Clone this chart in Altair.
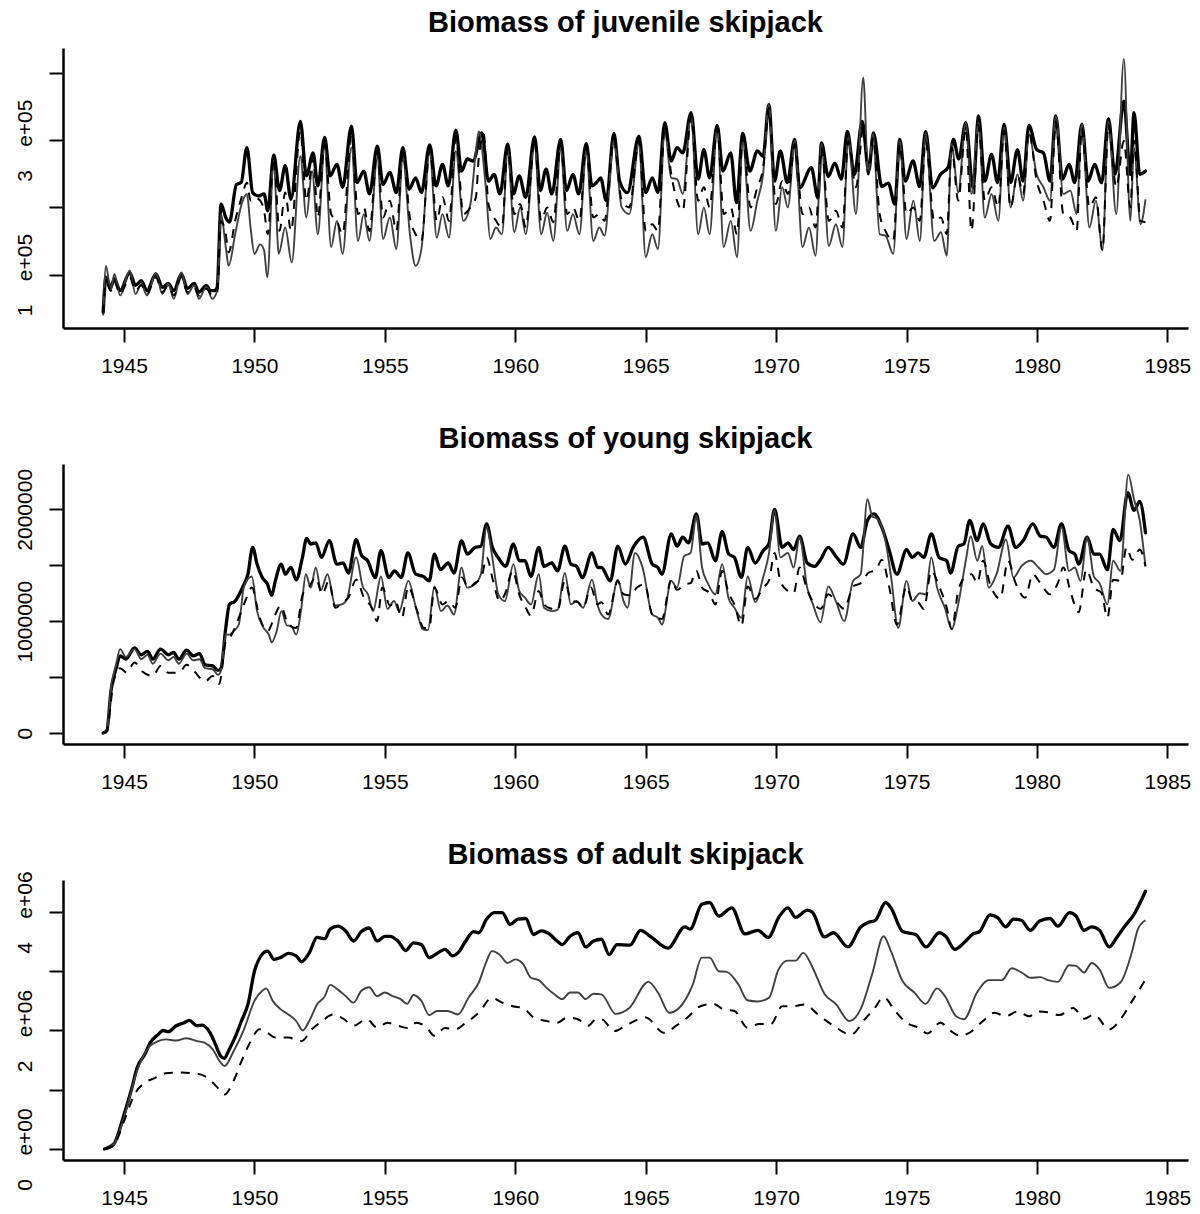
import altair as alt
import pandas as pd

# ---------------- data ----------------
YEAR_TICKS = [1945, 1950, 1955, 1960, 1965, 1970, 1975, 1980, 1985]
X_DOMAIN = [1942.66, 1985.79]

TITLES = ["Biomass of juvenile skipjack", "Biomass of young skipjack", "Biomass of adult skipjack"]

# Panel 1: juvenile biomass, values in units of 1e5
JUV_UNIT = 1e5
JUV_THICK = [(1944.20, 0.44), (1944.31, 0.96), (1944.49, 0.81), (1944.63, 0.94), (1944.85, 0.76), (1945.22, 1.03), (1945.44, 0.84), (1945.66, 0.91), (1945.88, 0.76), (1946.22, 1.01), (1946.47, 0.81), (1946.69, 0.87), (1946.91, 0.76), (1947.20, 1.01), (1947.43, 0.79), (1947.69, 0.87), (1947.87, 0.74), (1948.16, 0.84), (1948.31, 0.76), (1948.46, 0.76), (1948.57, 0.81), (1948.72, 2.05), (1948.90, 1.85), (1949.04, 1.78), (1949.31, 2.34), (1949.49, 2.37), (1949.71, 2.89), (1949.93, 2.22), (1950.15, 2.17), (1950.37, 2.20), (1950.51, 1.95), (1950.74, 2.78), (1950.96, 2.25), (1951.18, 2.62), (1951.40, 2.12), (1951.76, 3.28), (1951.99, 2.47), (1952.25, 2.81), (1952.43, 2.32), (1952.69, 3.04), (1952.90, 2.47), (1953.16, 2.64), (1953.38, 2.30), (1953.72, 3.21), (1953.93, 2.37), (1954.19, 2.54), (1954.41, 2.20), (1954.71, 2.91), (1954.93, 2.34), (1955.19, 2.52), (1955.44, 2.22), (1955.69, 2.89), (1955.93, 2.27), (1956.18, 2.44), (1956.40, 2.22), (1956.72, 2.93), (1956.96, 2.32), (1957.21, 2.64), (1957.43, 2.32), (1957.72, 3.15), (1957.94, 2.54), (1958.16, 2.72), (1958.38, 2.69), (1958.72, 3.11), (1958.97, 2.39), (1959.19, 2.49), (1959.41, 2.20), (1959.71, 2.94), (1959.93, 2.20), (1960.15, 2.47), (1960.40, 2.15), (1960.74, 3.05), (1960.96, 2.25), (1961.18, 2.57), (1961.40, 2.20), (1961.74, 3.01), (1961.96, 2.25), (1962.21, 2.49), (1962.43, 2.20), (1962.72, 2.95), (1962.94, 2.32), (1963.16, 2.39), (1963.27, 2.44), (1963.49, 2.10), (1963.78, 3.10), (1964.00, 2.39), (1964.30, 2.22), (1964.74, 3.06), (1965.00, 2.22), (1965.25, 2.44), (1965.47, 2.22), (1965.73, 3.26), (1965.98, 2.69), (1966.20, 2.89), (1966.42, 2.81), (1966.74, 3.41), (1967.01, 2.42), (1967.23, 2.86), (1967.45, 2.44), (1967.74, 3.22), (1967.96, 2.54), (1968.26, 2.81), (1968.48, 2.07), (1968.72, 3.10), (1968.99, 2.54), (1969.28, 2.84), (1969.50, 2.76), (1969.72, 3.53), (1969.94, 2.39), (1970.16, 2.84), (1970.43, 2.37), (1970.71, 3.01), (1970.90, 2.29), (1971.35, 2.59), (1971.60, 2.14), (1971.74, 2.96), (1972.00, 2.46), (1972.25, 2.66), (1972.50, 2.42), (1972.73, 3.13), (1973.00, 2.49), (1973.30, 3.28), (1973.55, 2.54), (1973.73, 3.11), (1974.05, 2.31), (1974.30, 2.36), (1974.55, 2.05), (1974.74, 3.01), (1974.95, 2.39), (1975.25, 2.69), (1975.50, 2.31), (1975.73, 3.13), (1976.00, 2.29), (1976.30, 2.49), (1976.60, 2.60), (1976.80, 3.01), (1977.00, 2.72), (1977.27, 3.26), (1977.55, 2.29), (1977.76, 3.36), (1978.00, 2.39), (1978.26, 2.79), (1978.49, 2.37), (1978.74, 3.24), (1978.99, 2.37), (1979.25, 2.86), (1979.47, 2.39), (1979.69, 3.22), (1979.99, 2.86), (1980.25, 2.81), (1980.50, 2.39), (1980.72, 3.36), (1980.98, 2.42), (1981.23, 2.64), (1981.45, 2.37), (1981.72, 3.24), (1981.96, 2.39), (1982.21, 2.64), (1982.48, 2.37), (1982.74, 3.32), (1982.99, 2.49), (1983.33, 3.58), (1983.58, 2.49), (1983.72, 3.41), (1983.94, 2.49), (1984.16, 2.54)]
JUV_GRAY = [(1944.20, 0.39), (1944.31, 1.13), (1944.49, 0.76), (1944.63, 1.01), (1944.85, 0.69), (1945.22, 1.06), (1945.44, 0.71), (1945.66, 0.86), (1945.88, 0.69), (1946.22, 1.02), (1946.47, 0.71), (1946.69, 0.86), (1946.91, 0.64), (1947.20, 1.03), (1947.43, 0.71), (1947.69, 0.84), (1947.87, 0.64), (1948.16, 0.82), (1948.38, 0.64), (1948.57, 0.76), (1948.72, 1.90), (1948.90, 1.41), (1949.01, 1.13), (1949.26, 1.60), (1949.51, 2.05), (1949.71, 2.20), (1949.85, 1.70), (1950.00, 1.31), (1950.22, 1.45), (1950.37, 1.36), (1950.49, 0.96), (1950.74, 2.69), (1950.93, 1.31), (1951.18, 1.70), (1951.43, 1.18), (1951.76, 2.76), (1951.99, 1.85), (1952.21, 2.54), (1952.43, 1.60), (1952.69, 2.89), (1952.94, 1.41), (1953.16, 1.80), (1953.38, 1.31), (1953.72, 2.89), (1953.97, 1.50), (1954.19, 1.90), (1954.41, 1.50), (1954.71, 2.74), (1954.93, 1.53), (1955.19, 1.85), (1955.44, 1.38), (1955.69, 2.74), (1955.96, 1.60), (1956.18, 1.13), (1956.40, 1.38), (1956.72, 2.81), (1956.99, 1.55), (1957.21, 1.90), (1957.46, 1.55), (1957.72, 2.84), (1958.01, 1.80), (1958.28, 2.05), (1958.49, 2.84), (1958.60, 3.13), (1958.87, 2.30), (1959.04, 1.53), (1959.26, 1.70), (1959.49, 1.60), (1959.71, 2.84), (1959.96, 1.63), (1960.19, 2.00), (1960.40, 1.60), (1960.74, 2.94), (1960.99, 1.60), (1961.22, 1.92), (1961.46, 1.50), (1961.74, 2.86), (1961.99, 1.65), (1962.21, 1.90), (1962.46, 1.60), (1962.72, 2.84), (1962.99, 1.50), (1963.22, 1.70), (1963.42, 1.58), (1963.78, 2.99), (1964.08, 2.00), (1964.37, 1.90), (1964.74, 2.94), (1965.00, 1.26), (1965.25, 1.60), (1965.47, 1.38), (1965.73, 3.14), (1965.98, 2.44), (1966.20, 2.42), (1966.42, 2.20), (1966.74, 3.36), (1967.01, 1.60), (1967.23, 2.00), (1967.45, 1.60), (1967.74, 3.18), (1967.99, 1.41), (1968.26, 1.80), (1968.50, 1.26), (1968.72, 2.99), (1969.02, 1.65), (1969.28, 2.10), (1969.50, 2.49), (1969.72, 3.53), (1969.99, 1.65), (1970.23, 2.30), (1970.45, 2.00), (1970.72, 2.99), (1971.01, 1.41), (1971.26, 1.70), (1971.51, 1.28), (1971.74, 2.94), (1972.02, 1.43), (1972.29, 1.75), (1972.54, 1.41), (1972.77, 3.04), (1973.06, 1.90), (1973.34, 3.93), (1973.53, 2.49), (1973.71, 3.09), (1973.97, 1.60), (1974.19, 1.58), (1974.49, 1.31), (1974.74, 2.99), (1975.00, 1.53), (1975.26, 2.10), (1975.51, 1.50), (1975.73, 3.09), (1976.06, 1.50), (1976.32, 1.63), (1976.54, 1.28), (1976.73, 2.94), (1976.98, 2.22), (1977.27, 3.26), (1977.49, 2.20), (1977.76, 3.26), (1978.00, 1.85), (1978.26, 2.20), (1978.52, 1.80), (1978.74, 3.19), (1978.99, 2.00), (1979.25, 2.49), (1979.47, 2.10), (1979.69, 3.09), (1979.99, 2.49), (1980.25, 2.30), (1980.50, 2.10), (1980.72, 3.36), (1981.01, 2.20), (1981.28, 2.25), (1981.52, 1.90), (1981.72, 3.24), (1982.01, 1.70), (1982.26, 2.10), (1982.51, 1.36), (1982.74, 3.28), (1983.04, 1.90), (1983.33, 4.21), (1983.58, 1.80), (1983.72, 2.89), (1983.97, 1.75), (1984.16, 2.12)]
JUV_DASH = [(1944.20, 0.42), (1944.31, 0.89), (1944.49, 0.76), (1944.63, 0.89), (1944.85, 0.71), (1945.22, 0.96), (1945.44, 0.76), (1945.66, 0.84), (1945.88, 0.71), (1946.22, 0.96), (1946.47, 0.74), (1946.69, 0.84), (1946.91, 0.69), (1947.20, 0.96), (1947.43, 0.74), (1947.69, 0.81), (1947.87, 0.69), (1948.16, 0.79), (1948.38, 0.69), (1948.57, 0.74), (1948.72, 1.80), (1948.90, 1.60), (1949.01, 1.33), (1949.26, 1.80), (1949.51, 2.15), (1949.71, 2.37), (1949.85, 2.10), (1950.00, 2.15), (1950.22, 2.10), (1950.37, 1.95), (1950.51, 1.60), (1950.74, 2.74), (1950.96, 1.65), (1951.18, 2.22), (1951.40, 1.65), (1951.76, 3.14), (1951.99, 2.10), (1952.25, 2.74), (1952.43, 1.85), (1952.69, 2.94), (1952.94, 1.90), (1953.16, 1.80), (1953.38, 1.60), (1953.72, 3.09), (1953.97, 1.90), (1954.19, 2.00), (1954.41, 1.65), (1954.71, 2.84), (1954.93, 1.85), (1955.19, 2.10), (1955.44, 1.65), (1955.69, 2.81), (1955.96, 1.85), (1956.18, 1.60), (1956.40, 1.50), (1956.72, 2.86), (1956.99, 1.80), (1957.21, 2.15), (1957.46, 1.80), (1957.72, 3.04), (1958.01, 1.90), (1958.28, 2.00), (1958.49, 2.15), (1958.60, 2.74), (1958.79, 3.09), (1958.97, 2.05), (1959.26, 1.80), (1959.49, 1.70), (1959.71, 2.89), (1959.96, 1.90), (1960.19, 2.05), (1960.40, 1.70), (1960.74, 3.01), (1960.99, 1.80), (1961.22, 2.00), (1961.46, 1.78), (1961.74, 2.96), (1961.99, 1.90), (1962.21, 2.00), (1962.46, 1.80), (1962.72, 2.89), (1962.99, 1.85), (1963.22, 1.90), (1963.42, 1.80), (1963.78, 3.01), (1964.08, 2.10), (1964.37, 2.00), (1964.74, 2.99), (1965.00, 1.65), (1965.25, 1.75), (1965.47, 1.65), (1965.73, 3.19), (1965.98, 2.49), (1966.20, 2.10), (1966.42, 1.95), (1966.74, 3.36), (1967.01, 2.10), (1967.23, 2.30), (1967.45, 2.00), (1967.74, 3.18), (1967.99, 1.90), (1968.26, 2.00), (1968.50, 1.60), (1968.72, 3.04), (1969.02, 2.00), (1969.28, 2.30), (1969.50, 2.59), (1969.72, 3.48), (1969.99, 2.05), (1970.23, 2.39), (1970.45, 2.20), (1970.72, 2.94), (1971.01, 1.90), (1971.26, 2.00), (1971.51, 1.70), (1971.74, 2.89), (1972.02, 1.80), (1972.29, 1.95), (1972.54, 1.70), (1972.77, 2.99), (1973.06, 2.30), (1973.34, 3.18), (1973.53, 2.49), (1973.71, 3.04), (1973.97, 1.90), (1974.19, 1.65), (1974.49, 1.50), (1974.74, 2.94), (1975.00, 1.90), (1975.26, 2.00), (1975.51, 1.80), (1975.73, 2.99), (1976.06, 1.80), (1976.32, 1.85), (1976.54, 1.60), (1976.73, 2.89), (1976.98, 2.10), (1977.27, 3.18), (1977.49, 1.65), (1977.76, 3.23), (1978.00, 2.10), (1978.26, 2.30), (1978.52, 2.00), (1978.74, 3.14), (1978.99, 2.00), (1979.25, 2.49), (1979.47, 2.20), (1979.69, 3.14), (1979.99, 2.39), (1980.25, 2.10), (1980.50, 1.80), (1980.72, 3.28), (1981.01, 1.90), (1981.28, 1.85), (1981.52, 1.65), (1981.72, 3.18), (1982.01, 2.00), (1982.26, 2.15), (1982.51, 1.36), (1982.74, 3.23), (1983.04, 2.30), (1983.33, 2.99), (1983.58, 2.00), (1983.72, 2.99), (1983.97, 1.80), (1984.16, 1.78)]

# Panel 2: young biomass, values in units of 1e6
YOUNG_UNIT = 1e6
YOUNG_THICK = [(1944.20, 0.00), (1944.34, 0.02), (1944.50, 0.38), (1944.70, 0.58), (1944.85, 0.69), (1945.07, 0.66), (1945.40, 0.76), (1945.66, 0.70), (1945.90, 0.73), (1946.10, 0.66), (1946.40, 0.75), (1946.70, 0.70), (1946.90, 0.72), (1947.10, 0.66), (1947.40, 0.74), (1947.65, 0.69), (1947.90, 0.71), (1948.10, 0.61), (1948.40, 0.60), (1948.60, 0.56), (1948.72, 0.58), (1948.90, 0.94), (1949.04, 1.15), (1949.26, 1.18), (1949.56, 1.31), (1949.75, 1.42), (1949.93, 1.66), (1950.10, 1.51), (1950.30, 1.39), (1950.50, 1.33), (1950.66, 1.23), (1950.80, 1.36), (1951.03, 1.51), (1951.18, 1.42), (1951.40, 1.48), (1951.60, 1.37), (1951.84, 1.57), (1952.00, 1.74), (1952.16, 1.69), (1952.35, 1.70), (1952.57, 1.57), (1952.87, 1.72), (1953.16, 1.51), (1953.40, 1.52), (1953.60, 1.43), (1953.90, 1.73), (1954.10, 1.59), (1954.34, 1.54), (1954.63, 1.39), (1954.85, 1.63), (1955.15, 1.39), (1955.37, 1.45), (1955.63, 1.39), (1955.88, 1.61), (1956.18, 1.42), (1956.47, 1.40), (1956.70, 1.36), (1956.90, 1.60), (1957.13, 1.46), (1957.43, 1.52), (1957.65, 1.43), (1957.94, 1.72), (1958.16, 1.60), (1958.46, 1.66), (1958.68, 1.67), (1958.90, 1.87), (1959.12, 1.66), (1959.34, 1.57), (1959.63, 1.49), (1959.93, 1.69), (1960.15, 1.54), (1960.37, 1.54), (1960.60, 1.40), (1960.90, 1.66), (1961.10, 1.49), (1961.40, 1.52), (1961.62, 1.45), (1961.90, 1.67), (1962.13, 1.51), (1962.35, 1.49), (1962.57, 1.39), (1962.94, 1.61), (1963.16, 1.48), (1963.30, 1.48), (1963.64, 1.36), (1963.93, 1.67), (1964.22, 1.51), (1964.52, 1.66), (1964.90, 1.75), (1965.25, 1.51), (1965.47, 1.48), (1965.62, 1.42), (1965.98, 1.78), (1966.20, 1.67), (1966.42, 1.75), (1966.64, 1.70), (1966.94, 1.96), (1967.16, 1.69), (1967.38, 1.70), (1967.67, 1.54), (1967.93, 1.80), (1968.18, 1.60), (1968.40, 1.57), (1968.67, 1.39), (1968.91, 1.66), (1969.20, 1.52), (1969.50, 1.63), (1969.72, 1.69), (1969.94, 2.00), (1970.23, 1.66), (1970.45, 1.70), (1970.67, 1.64), (1970.90, 1.76), (1971.19, 1.52), (1971.48, 1.49), (1971.70, 1.55), (1972.00, 1.66), (1972.29, 1.58), (1972.58, 1.51), (1972.95, 1.78), (1973.24, 1.66), (1973.50, 1.90), (1973.75, 1.96), (1974.05, 1.84), (1974.34, 1.63), (1974.63, 1.42), (1975.00, 1.64), (1975.22, 1.57), (1975.44, 1.61), (1975.66, 1.57), (1975.95, 1.78), (1976.25, 1.57), (1976.54, 1.54), (1976.69, 1.43), (1976.98, 1.67), (1977.20, 1.69), (1977.42, 1.90), (1977.71, 1.72), (1977.93, 1.87), (1978.23, 1.69), (1978.52, 1.66), (1978.89, 1.85), (1979.18, 1.66), (1979.47, 1.72), (1979.84, 1.87), (1980.13, 1.76), (1980.35, 1.75), (1980.65, 1.66), (1980.94, 1.87), (1981.23, 1.63), (1981.45, 1.60), (1981.60, 1.51), (1981.92, 1.75), (1982.18, 1.60), (1982.40, 1.60), (1982.70, 1.46), (1982.92, 1.82), (1983.18, 1.72), (1983.48, 2.15), (1983.72, 1.99), (1983.94, 2.07), (1984.16, 1.79)]
YOUNG_GRAY = [(1944.20, 0.00), (1944.34, 0.02), (1944.50, 0.40), (1944.70, 0.62), (1944.85, 0.75), (1945.07, 0.68), (1945.40, 0.75), (1945.66, 0.66), (1945.90, 0.70), (1946.10, 0.62), (1946.40, 0.71), (1946.70, 0.65), (1946.90, 0.68), (1947.10, 0.62), (1947.40, 0.71), (1947.65, 0.65), (1947.90, 0.66), (1948.10, 0.58), (1948.40, 0.57), (1948.60, 0.52), (1948.72, 0.56), (1948.90, 0.88), (1949.04, 0.88), (1949.20, 0.91), (1949.40, 0.97), (1949.60, 1.31), (1949.90, 1.40), (1950.10, 1.09), (1950.35, 0.94), (1950.55, 0.88), (1950.66, 0.81), (1950.85, 0.91), (1951.03, 1.09), (1951.25, 0.96), (1951.40, 0.96), (1951.60, 0.88), (1951.80, 1.12), (1951.97, 1.42), (1952.16, 1.30), (1952.35, 1.48), (1952.55, 1.28), (1952.80, 1.42), (1953.10, 1.14), (1953.35, 1.15), (1953.55, 1.20), (1953.90, 1.57), (1954.15, 1.31), (1954.35, 1.24), (1954.55, 1.09), (1954.85, 1.40), (1955.10, 1.11), (1955.35, 1.18), (1955.55, 1.09), (1955.90, 1.36), (1956.20, 1.11), (1956.45, 0.93), (1956.65, 0.92), (1956.90, 1.31), (1957.15, 1.09), (1957.40, 1.14), (1957.65, 1.06), (1957.94, 1.48), (1958.15, 1.30), (1958.45, 1.33), (1958.68, 1.42), (1958.90, 1.85), (1959.10, 1.60), (1959.35, 1.24), (1959.60, 1.18), (1959.93, 1.51), (1960.15, 1.27), (1960.37, 1.21), (1960.60, 1.15), (1960.90, 1.42), (1961.10, 1.12), (1961.40, 1.09), (1961.62, 1.10), (1961.90, 1.43), (1962.13, 1.15), (1962.35, 1.18), (1962.60, 1.12), (1962.94, 1.37), (1963.16, 1.14), (1963.30, 1.06), (1963.56, 1.02), (1963.93, 1.37), (1964.15, 1.18), (1964.30, 1.12), (1964.59, 1.61), (1964.88, 1.48), (1965.25, 1.06), (1965.47, 1.03), (1965.62, 0.97), (1965.98, 1.36), (1966.20, 1.30), (1966.47, 1.58), (1966.72, 1.61), (1966.94, 1.94), (1967.16, 1.48), (1967.38, 1.34), (1967.67, 1.24), (1967.93, 1.51), (1968.18, 1.20), (1968.40, 1.12), (1968.67, 1.03), (1968.91, 1.40), (1969.20, 1.17), (1969.50, 1.39), (1969.72, 1.60), (1969.94, 1.99), (1970.16, 1.57), (1970.45, 1.61), (1970.67, 1.48), (1970.90, 1.75), (1971.19, 1.30), (1971.41, 1.15), (1971.70, 0.99), (1972.00, 1.31), (1972.29, 1.18), (1972.61, 1.00), (1972.95, 1.36), (1973.24, 1.42), (1973.50, 2.09), (1973.68, 1.94), (1973.90, 1.91), (1974.19, 1.72), (1974.41, 1.39), (1974.68, 0.94), (1975.00, 1.36), (1975.22, 1.18), (1975.51, 1.25), (1975.73, 1.24), (1975.95, 1.57), (1976.17, 1.30), (1976.47, 1.12), (1976.73, 0.93), (1976.98, 1.15), (1977.27, 1.54), (1977.46, 1.76), (1977.71, 1.54), (1977.90, 1.67), (1978.15, 1.30), (1978.45, 1.42), (1978.81, 1.73), (1979.10, 1.39), (1979.40, 1.49), (1979.77, 1.54), (1980.06, 1.48), (1980.35, 1.42), (1980.65, 1.46), (1980.94, 1.84), (1981.23, 1.45), (1981.45, 1.48), (1981.67, 1.36), (1981.92, 1.75), (1982.18, 1.40), (1982.40, 1.34), (1982.70, 1.15), (1982.92, 1.54), (1983.20, 1.45), (1983.50, 2.31), (1983.72, 2.09), (1983.94, 1.90), (1984.16, 1.49)]
YOUNG_DASH = [(1944.20, 0.00), (1944.34, 0.02), (1944.60, 0.46), (1944.85, 0.58), (1945.10, 0.54), (1945.40, 0.63), (1945.70, 0.55), (1946.10, 0.51), (1946.40, 0.60), (1946.70, 0.54), (1947.10, 0.54), (1947.40, 0.61), (1947.70, 0.55), (1948.10, 0.46), (1948.40, 0.51), (1948.65, 0.44), (1948.90, 0.82), (1949.10, 0.87), (1949.40, 1.03), (1949.70, 1.21), (1949.90, 1.30), (1950.20, 1.03), (1950.50, 0.91), (1950.80, 1.06), (1951.00, 1.14), (1951.30, 0.97), (1951.60, 0.94), (1951.85, 1.24), (1952.10, 1.31), (1952.35, 1.39), (1952.60, 1.24), (1952.85, 1.36), (1953.10, 1.12), (1953.40, 1.17), (1953.60, 1.21), (1953.90, 1.37), (1954.20, 1.21), (1954.50, 1.12), (1954.70, 1.00), (1954.90, 1.30), (1955.20, 1.14), (1955.40, 1.18), (1955.65, 1.03), (1955.90, 1.31), (1956.20, 1.12), (1956.50, 0.94), (1956.70, 0.94), (1956.90, 1.30), (1957.20, 1.15), (1957.45, 1.18), (1957.70, 1.12), (1957.95, 1.39), (1958.20, 1.30), (1958.45, 1.34), (1958.70, 1.39), (1958.90, 1.57), (1959.15, 1.36), (1959.40, 1.18), (1959.60, 1.24), (1959.90, 1.45), (1960.15, 1.24), (1960.40, 1.12), (1960.60, 1.05), (1960.90, 1.27), (1961.10, 1.15), (1961.40, 1.11), (1961.62, 1.10), (1961.90, 1.36), (1962.15, 1.18), (1962.40, 1.17), (1962.60, 1.12), (1962.90, 1.30), (1963.15, 1.15), (1963.30, 1.17), (1963.56, 1.06), (1963.93, 1.36), (1964.15, 1.24), (1964.44, 1.23), (1964.66, 1.30), (1964.96, 1.33), (1965.25, 1.06), (1965.62, 1.02), (1965.98, 1.37), (1966.20, 1.28), (1966.50, 1.33), (1966.72, 1.34), (1966.94, 1.45), (1967.16, 1.30), (1967.45, 1.25), (1967.67, 1.15), (1967.93, 1.45), (1968.18, 1.25), (1968.40, 1.15), (1968.67, 0.96), (1968.91, 1.31), (1969.20, 1.20), (1969.50, 1.30), (1969.72, 1.36), (1969.94, 1.61), (1970.16, 1.36), (1970.45, 1.27), (1970.67, 1.25), (1970.90, 1.48), (1971.19, 1.28), (1971.48, 1.15), (1971.70, 1.11), (1972.00, 1.24), (1972.29, 1.18), (1972.61, 1.11), (1972.95, 1.31), (1973.24, 1.34), (1973.53, 1.43), (1973.83, 1.46), (1974.05, 1.55), (1974.34, 1.30), (1974.63, 0.97), (1975.00, 1.31), (1975.22, 1.18), (1975.44, 1.17), (1975.66, 1.11), (1975.95, 1.45), (1976.25, 1.31), (1976.54, 1.12), (1976.73, 0.93), (1976.98, 1.27), (1977.27, 1.40), (1977.49, 1.42), (1977.71, 1.34), (1977.93, 1.54), (1978.23, 1.31), (1978.59, 1.20), (1978.89, 1.54), (1979.18, 1.34), (1979.55, 1.21), (1979.84, 1.42), (1980.13, 1.34), (1980.50, 1.24), (1980.80, 1.34), (1981.01, 1.48), (1981.30, 1.25), (1981.60, 1.08), (1981.89, 1.46), (1982.18, 1.30), (1982.48, 1.25), (1982.70, 1.03), (1982.92, 1.37), (1983.20, 1.36), (1983.43, 1.66), (1983.65, 1.55), (1983.94, 1.64), (1984.16, 1.49)]

# Panel 3: adult biomass, values in units of 1e6
ADULT_UNIT = 1e6
ADULT_THICK = [(1944.25, 0.00), (1944.60, 0.08), (1945.00, 0.58), (1945.30, 1.03), (1945.50, 1.37), (1945.80, 1.60), (1946.00, 1.79), (1946.30, 1.93), (1946.50, 2.00), (1946.70, 1.98), (1947.00, 2.08), (1947.30, 2.13), (1947.50, 2.17), (1947.80, 2.08), (1948.00, 2.09), (1948.30, 1.96), (1948.50, 1.77), (1948.70, 1.57), (1948.85, 1.53), (1949.00, 1.65), (1949.30, 1.93), (1949.50, 2.16), (1949.75, 2.44), (1950.00, 3.00), (1950.25, 3.26), (1950.50, 3.34), (1950.75, 3.20), (1951.00, 3.23), (1951.30, 3.30), (1951.60, 3.26), (1951.80, 3.16), (1952.10, 3.31), (1952.40, 3.57), (1952.70, 3.55), (1952.90, 3.71), (1953.20, 3.76), (1953.50, 3.68), (1953.80, 3.51), (1954.10, 3.67), (1954.40, 3.73), (1954.70, 3.51), (1955.00, 3.59), (1955.20, 3.59), (1955.50, 3.51), (1955.80, 3.35), (1956.10, 3.48), (1956.40, 3.45), (1956.70, 3.23), (1957.00, 3.30), (1957.30, 3.37), (1957.60, 3.26), (1957.80, 3.31), (1958.10, 3.51), (1958.40, 3.67), (1958.60, 3.65), (1958.90, 3.88), (1959.20, 3.99), (1959.50, 3.99), (1959.80, 3.79), (1960.10, 3.88), (1960.40, 3.89), (1960.70, 3.62), (1961.00, 3.68), (1961.30, 3.63), (1961.60, 3.51), (1961.80, 3.45), (1962.10, 3.59), (1962.40, 3.65), (1962.70, 3.41), (1963.00, 3.51), (1963.30, 3.54), (1963.60, 3.28), (1963.90, 3.45), (1964.40, 3.44), (1964.80, 3.69), (1965.20, 3.58), (1965.85, 3.39), (1966.50, 3.75), (1966.70, 3.71), (1967.15, 4.13), (1967.45, 4.16), (1967.80, 3.93), (1968.30, 4.07), (1968.80, 3.63), (1969.30, 3.69), (1969.70, 3.57), (1970.10, 3.91), (1970.45, 4.07), (1970.75, 3.91), (1971.20, 4.03), (1971.40, 3.99), (1971.85, 3.58), (1972.20, 3.65), (1972.75, 3.41), (1973.25, 3.75), (1973.50, 3.82), (1973.80, 3.86), (1974.20, 4.16), (1974.40, 4.07), (1974.85, 3.67), (1975.35, 3.62), (1975.75, 3.41), (1976.25, 3.65), (1976.50, 3.59), (1976.85, 3.37), (1977.20, 3.48), (1977.55, 3.63), (1977.80, 3.67), (1978.20, 3.95), (1978.50, 3.90), (1978.80, 3.75), (1979.10, 3.88), (1979.40, 3.86), (1979.75, 3.69), (1980.10, 3.85), (1980.50, 3.89), (1980.80, 3.76), (1981.25, 3.99), (1981.50, 3.93), (1981.80, 3.69), (1982.10, 3.75), (1982.40, 3.69), (1982.77, 3.41), (1983.06, 3.57), (1983.35, 3.75), (1983.72, 3.96), (1984.16, 4.35)]
ADULT_GRAY = [(1944.25, 0.00), (1944.60, 0.08), (1945.00, 0.53), (1945.50, 1.32), (1946.00, 1.74), (1946.30, 1.82), (1946.60, 1.85), (1947.00, 1.83), (1947.40, 1.87), (1947.80, 1.82), (1948.10, 1.79), (1948.40, 1.68), (1948.70, 1.46), (1948.85, 1.40), (1949.20, 1.65), (1949.60, 2.02), (1950.00, 2.50), (1950.30, 2.67), (1950.45, 2.71), (1950.70, 2.50), (1951.00, 2.36), (1951.30, 2.27), (1951.60, 2.16), (1951.85, 2.00), (1952.10, 2.16), (1952.40, 2.44), (1952.70, 2.58), (1952.90, 2.77), (1953.20, 2.69), (1953.50, 2.58), (1953.80, 2.47), (1954.10, 2.67), (1954.40, 2.73), (1954.70, 2.58), (1955.00, 2.64), (1955.30, 2.58), (1955.60, 2.53), (1955.85, 2.45), (1956.10, 2.60), (1956.40, 2.50), (1956.70, 2.26), (1957.00, 2.33), (1957.40, 2.33), (1957.80, 2.27), (1958.20, 2.55), (1958.60, 2.81), (1958.90, 3.17), (1959.10, 3.34), (1959.40, 3.28), (1959.70, 3.14), (1960.00, 3.20), (1960.30, 3.12), (1960.60, 2.89), (1960.90, 2.85), (1961.20, 2.72), (1961.50, 2.61), (1961.80, 2.53), (1962.10, 2.64), (1962.40, 2.64), (1962.70, 2.53), (1963.00, 2.62), (1963.30, 2.61), (1963.85, 2.28), (1964.37, 2.38), (1965.10, 2.82), (1965.47, 2.64), (1965.90, 2.30), (1966.28, 2.38), (1966.80, 2.77), (1967.15, 3.23), (1967.45, 3.23), (1967.80, 3.00), (1968.10, 2.99), (1968.55, 2.78), (1968.90, 2.51), (1969.28, 2.49), (1969.72, 2.55), (1970.09, 3.03), (1970.45, 3.18), (1970.75, 3.18), (1971.04, 3.31), (1971.40, 3.06), (1971.85, 2.62), (1972.30, 2.44), (1972.80, 2.16), (1973.24, 2.36), (1973.68, 2.95), (1974.12, 3.59), (1974.40, 3.34), (1974.85, 2.83), (1975.30, 2.64), (1975.73, 2.45), (1976.17, 2.71), (1976.47, 2.58), (1976.90, 2.24), (1977.20, 2.19), (1977.70, 2.64), (1978.15, 2.85), (1978.66, 2.85), (1979.03, 3.05), (1979.40, 2.98), (1979.76, 2.89), (1980.13, 2.90), (1980.42, 2.85), (1980.80, 2.82), (1981.23, 3.10), (1981.50, 3.09), (1981.80, 2.98), (1982.10, 3.14), (1982.40, 3.03), (1982.77, 2.72), (1983.20, 2.81), (1983.65, 3.34), (1983.87, 3.71), (1984.16, 3.86)]
ADULT_DASH = [(1944.25, 0.00), (1944.60, 0.06), (1945.00, 0.47), (1945.40, 0.92), (1945.80, 1.12), (1946.20, 1.20), (1946.60, 1.28), (1947.20, 1.29), (1947.80, 1.27), (1948.20, 1.20), (1948.60, 1.03), (1948.85, 0.92), (1949.20, 1.15), (1949.50, 1.48), (1949.80, 1.77), (1950.20, 2.02), (1950.50, 1.96), (1950.80, 1.88), (1951.30, 1.88), (1951.80, 1.82), (1952.20, 2.02), (1952.60, 2.16), (1953.00, 2.27), (1953.40, 2.20), (1953.80, 2.08), (1954.30, 2.19), (1954.70, 2.05), (1955.10, 2.13), (1955.50, 2.08), (1955.90, 2.04), (1956.20, 2.13), (1956.60, 2.05), (1956.90, 1.91), (1957.30, 2.04), (1957.70, 2.02), (1958.10, 2.13), (1958.60, 2.30), (1959.10, 2.55), (1959.50, 2.47), (1959.90, 2.41), (1960.30, 2.38), (1960.70, 2.22), (1961.20, 2.16), (1961.60, 2.13), (1962.00, 2.22), (1962.40, 2.19), (1962.80, 2.08), (1963.10, 2.19), (1963.30, 2.19), (1963.80, 1.99), (1964.30, 2.10), (1965.00, 2.22), (1965.70, 1.96), (1966.20, 2.09), (1966.60, 2.22), (1967.10, 2.41), (1967.60, 2.45), (1967.96, 2.36), (1968.40, 2.33), (1968.90, 2.05), (1969.35, 2.11), (1969.80, 2.11), (1970.23, 2.41), (1970.67, 2.41), (1971.10, 2.44), (1971.60, 2.27), (1972.20, 2.08), (1972.87, 1.93), (1973.40, 2.19), (1973.75, 2.36), (1974.12, 2.56), (1974.56, 2.33), (1975.00, 2.13), (1975.44, 2.05), (1975.80, 1.95), (1976.30, 2.13), (1976.70, 1.99), (1977.05, 1.91), (1977.40, 1.96), (1977.93, 2.16), (1978.37, 2.30), (1978.80, 2.24), (1979.25, 2.32), (1979.70, 2.24), (1980.05, 2.32), (1980.50, 2.30), (1980.86, 2.26), (1981.38, 2.38), (1981.82, 2.20), (1982.18, 2.27), (1982.77, 2.02), (1983.20, 2.19), (1983.65, 2.50), (1984.16, 2.86)]

NB = "\u00a0" * 4
JUV_TICKS = [100000, 200000, 300000, 400000]
JUV_LABELS = {100000: "1" + NB + "e+05", 300000: "3" + NB + "e+05"}
YOUNG_TICKS = [0, 500000, 1000000, 1500000, 2000000]
YOUNG_LABELS = {0: "0", 1000000: "1000000", 2000000: "2000000"}
ADULT_TICKS = [0, 1000000, 2000000, 3000000, 4000000]
ADULT_LABELS = {0: "0" + NB + "e+00", 2000000: "2" + NB + "e+06", 4000000: "4" + NB + "e+06"}

Y_DOMAINS = [[20500, 437200], [-98000, 2405000], [-186000, 4540000]]

# ---------------- chart ----------------
W, H = 1125, 280
FONT = "Liberation Sans"

STYLES = {
    "thick": dict(color="#000000", strokeWidth=3.3, strokeCap="round", strokeJoin="round"),
    "gray": dict(color="#404040", strokeWidth=1.9, strokeJoin="round"),
    "dash": dict(color="#000000", strokeWidth=2.0, strokeDash=[9, 8]),
}


def label_expr(labels):
    parts = [f"datum.value == {v} ? '{t}'" for v, t in labels.items()]
    return " : ".join(parts) + " : ''"


def panel(title, series, unit, ydom, yticks, ylabels):
    layers = []
    for key, pts in series:
        df = pd.DataFrame(pts, columns=["year", "v"])
        df["value"] = df["v"] * unit
        line = alt.Chart(df).mark_line(interpolate="monotone", **STYLES[key]).encode(
            x=alt.X("year:Q",
                    scale=alt.Scale(domain=X_DOMAIN, nice=False, zero=False),
                    axis=alt.Axis(values=YEAR_TICKS, format="d", title=None,
                                  labelPadding=13, labelFlush=False, labelOverlap=False)),
            y=alt.Y("value:Q",
                    scale=alt.Scale(domain=ydom, nice=False, zero=False),
                    axis=alt.Axis(values=yticks, title=None, labelExpr=label_expr(ylabels),
                                  labelAngle=270, labelAlign="center", labelBaseline="alphabetic",
                                  labelPadding=18, labelFlush=False, labelOverlap=False)),
        )
        layers.append(line)
    ttl = alt.Chart(pd.DataFrame({"t": [title]})).mark_text(
        font=FONT, fontSize=29, fontWeight="bold", color="black",
        align="center", baseline="alphabetic"
    ).encode(text="t:N", x=alt.value(W / 2), y=alt.value(-16))
    layers.append(ttl)
    return alt.layer(*layers).properties(width=W, height=H)


p1 = panel(TITLES[0], [("thick", JUV_THICK), ("gray", JUV_GRAY), ("dash", JUV_DASH)],
           JUV_UNIT, Y_DOMAINS[0], JUV_TICKS, JUV_LABELS)
p2 = panel(TITLES[1], [("thick", YOUNG_THICK), ("gray", YOUNG_GRAY), ("dash", YOUNG_DASH)],
           YOUNG_UNIT, Y_DOMAINS[1], YOUNG_TICKS, YOUNG_LABELS)
p3 = panel(TITLES[2], [("thick", ADULT_THICK), ("gray", ADULT_GRAY), ("dash", ADULT_DASH)],
           ADULT_UNIT, Y_DOMAINS[2], ADULT_TICKS, ADULT_LABELS)

chart = alt.vconcat(p1, p2, p3, spacing=136, bounds="flush").properties(
    padding={"left": 13, "top": 9, "right": 5, "bottom": 2},
    background="white",
).configure_view(stroke=None).configure_axis(
    grid=False,
    domainColor="black", domainWidth=2.5,
    tickColor="black", tickWidth=2, tickSize=14,
    labelFont=FONT, labelFontSize=21, labelColor="black",
)

chart.save("out.html", embed_options={"renderer": "svg", "actions": False})
